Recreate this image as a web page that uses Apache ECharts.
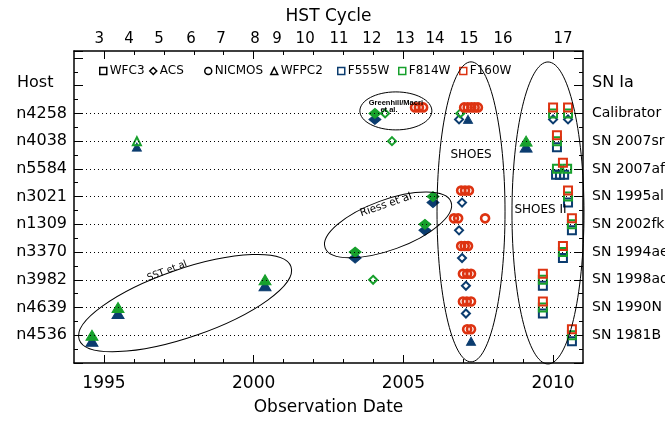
<!DOCTYPE html>
<html>
<head>
<meta charset="utf-8">
<script src="https://cdn.jsdelivr.net/npm/echarts@6/dist/echarts.min.js"></script>
<style>
    html, body {margin: 0; padding: 0; background: #fff;}
    #main {width: 665px; height: 422px;}
</style>
</head>
<body>
<div id="main"></div>
<script>
// host rows, bottom to top
var hosts = ['n4536', 'n4639', 'n3982', 'n3370', 'n1309', 'n3021', 'n5584', 'n4038', 'n4258'];
var snNames = ['SN 1981B', 'SN 1990N', 'SN 1998aq', 'SN 1994ae', 'SN 2002fk', 'SN 1995al', 'SN 2007af', 'SN 2007sr', 'Calibrator'];

var yearLabels = [1995, 2000, 2005, 2010];
var yearTicks = [1995, 1996, 1997, 1998, 1999, 2000, 2001, 2002, 2003, 2004, 2005, 2006, 2007, 2008, 2009, 2010];
var cycleNumbers = [3, 4, 5, 6, 7, 8, 9, 10, 11, 12, 13, 14, 15, 16, 17];
var cycleDates = [1994.84, 1995.84, 1996.84, 1997.91, 1998.91, 2000.05, 2000.78, 2001.72, 2002.85, 2003.95, 2005.06, 2006.06, 2007.19, 2008.33, 2010.33];

// [date, host]
// cepheid campaigns (many epochs, taken in both F555W and F814W)
var wfpc2Campaign = [[1994.6, 'n4536'], [1995.47, 'n4639'], [2000.38, 'n3982'], [2009.1, 'n4038']];
var acsCampaign = [[2004.05, 'n4258'], [2003.39, 'n3370'], [2005.72, 'n1309'], [2005.99, 'n3021']];

var wfpc2F814 = [[1996.1, 'n4038']];
var wfpc2F555 = [[1996.1, 'n4038'], [2007.16, 'n4258'], [2007.26, 'n4536']];

var acsF814 = [[2004.39, 'n4258'], [2006.9, 'n4258'], [2004.62, 'n4038'], [2003.99, 'n3982']];
var acsF555 = [[2006.86, 'n4258'], [2006.96, 'n3021'], [2006.86, 'n1309'], [2006.96, 'n3370'],
    [2007.09, 'n3982'], [2007.09, 'n4639'], [2010.0, 'n4258'], [2010.5, 'n4258']];

var nicmosF160 = [
    [2005.39, 'n4258'], [2005.52, 'n4258'], [2005.66, 'n4258'],
    [2007.03, 'n4258'], [2007.15, 'n4258'], [2007.27, 'n4258'], [2007.38, 'n4258'], [2007.49, 'n4258'],
    [2006.93, 'n3021'], [2007.06, 'n3021'], [2007.19, 'n3021'],
    [2006.69, 'n1309'], [2006.83, 'n1309'], [2007.73, 'n1309'],
    [2006.93, 'n3370'], [2007.05, 'n3370'], [2007.16, 'n3370'],
    [2006.99, 'n3982'], [2007.13, 'n3982'], [2007.26, 'n3982'],
    [2006.99, 'n4639'], [2007.12, 'n4639'], [2007.26, 'n4639'],
    [2007.13, 'n4536'], [2007.26, 'n4536']
];

var wfc3F160 = [[2010.0, 'n4258'], [2010.5, 'n4258'], [2010.13, 'n4038'], [2010.33, 'n5584'], [2010.5, 'n3021'],
    [2010.63, 'n1309'], [2010.33, 'n3370'], [2009.66, 'n3982'], [2009.66, 'n4639'], [2010.63, 'n4536']];
var wfc3F814 = [[2010.0, 'n4258'], [2010.5, 'n4258'], [2010.13, 'n4038'], [2010.13, 'n5584'], [2010.47, 'n5584'],
    [2010.5, 'n3021'], [2010.63, 'n1309'], [2010.33, 'n3370'], [2009.66, 'n3982'], [2009.66, 'n4639'], [2010.63, 'n4536']];
var wfc3F555 = [[2010.13, 'n4038'], [2010.1, 'n5584'], [2010.23, 'n5584'], [2010.37, 'n5584'], [2010.5, 'n3021'],
    [2010.63, 'n1309'], [2010.33, 'n3370'], [2009.66, 'n3982'], [2009.66, 'n4639'], [2010.63, 'n4536']];

var FONT = 'DejaVu Sans';
var filterColor = {F555W: '#0b3c6f', F814W: '#17a02c', F160W: '#dd3311'};
var filterShift = {F555W: 6, F814W: 0, F160W: -6};

var toPoints = function (list) {
    return list.map(function (d) {
        return [d[0], hosts.indexOf(d[1]) + 1];
    });
};

var marks = function (filter, symbol, size, list, filled, lw) {
    var c = filterColor[filter];
    return {
        type: 'scatter',
        name: filter,
        data: toPoints(list),
        symbol: symbol,
        symbolSize: size,
        symbolOffset: [0, filterShift[filter]],
        silent: true,
        z: 3,
        itemStyle: filled ? {color: c, borderColor: c, borderWidth: 1, opacity: 1}
            : {color: 'rgba(255,255,255,0)', borderColor: c, borderWidth: lw || 2, opacity: 1}
    };
};

var legendItems = [
    {name: 'WFC3', icon: 'rect', color: '#000', left: 99},
    {name: 'ACS', icon: 'diamond', color: '#000', left: 149},
    {name: 'NICMOS', icon: 'circle', color: '#000', left: 204},
    {name: 'WFPC2', icon: 'triangle', color: '#000', left: 270},
    {name: 'F555W', icon: 'rect', color: filterColor.F555W, left: 337},
    {name: 'F814W', icon: 'rect', color: filterColor.F814W, left: 398},
    {name: 'F160W', icon: 'rect', color: filterColor.F160W, left: 459}
];

var chart = echarts.init(document.getElementById('main'));

var axisLine = {show: true, lineStyle: {color: '#000', width: 1.5}};
var tickStyle = {color: '#000', width: 1};

var series = [
    // dotted guide lines for each host
    {
        type: 'scatter', data: [], silent: true,
        markLine: {
            silent: true, symbol: ['none', 'none'], label: {show: false},
            lineStyle: {type: [1, 3], color: '#000', width: 1},
            data: hosts.map(function (h, i) { return {yAxis: i + 1}; })
        }
    },
    {type: 'scatter', name: 'WFC3', data: []},
    {type: 'scatter', name: 'ACS', data: []},
    {type: 'scatter', name: 'NICMOS', data: []},
    {type: 'scatter', name: 'WFPC2', data: []},
    marks('F555W', 'triangle', [12, 10], wfpc2Campaign, true),
    marks('F814W', 'triangle', [12, 10], wfpc2Campaign, true),
    marks('F555W', 'triangle', [9, 8], wfpc2F555, true),
    marks('F814W', 'triangle', [8, 8], wfpc2F814, false),
    marks('F555W', 'diamond', [12, 10], acsCampaign, true),
    marks('F814W', 'diamond', [12, 10], acsCampaign, true),
    marks('F555W', 'diamond', 8, acsF555, false),
    marks('F814W', 'diamond', 8, acsF814, false),
    marks('F160W', 'circle', 8, nicmosF160, false, 2.6),
    marks('F555W', 'rect', 8, wfc3F555, false),
    marks('F814W', 'rect', 8, wfc3F814, false),
    marks('F160W', 'rect', 8, wfc3F160, false)
];

var option = {
    animation: false,
    grid: {left: 74, right: 82, top: 51, bottom: 59, outerBoundsMode: 'none'},
    legend: legendItems.map(function (it) {
        return {
            left: it.left, top: 65, padding: 0, selectedMode: false,
            itemWidth: 7, itemHeight: 7, itemGap: 0,
            textStyle: {color: '#000', fontFamily: FONT, fontSize: 12, padding: [0, 0, 0, -2]},
            data: [{name: it.name, icon: it.icon,
                itemStyle: {color: '#fff', borderColor: it.color, borderWidth: 1.5, opacity: 1}}]
        };
    }),
    xAxis: [
        {
            type: 'value', position: 'bottom', min: 1994, max: 2011,
            name: 'Observation Date', nameLocation: 'middle', nameGap: 36,
            nameTextStyle: {color: '#000', fontFamily: FONT, fontSize: 17},
            axisLine: axisLine,
            axisTick: {show: true, inside: true, length: 8, customValues: yearLabels, lineStyle: tickStyle},
            axisLabel: {customValues: yearLabels, margin: 12, color: '#000', fontFamily: FONT, fontSize: 17,
                formatter: function (v) { return String(v); }},
            splitLine: {show: false}
        },
        {
            type: 'value', position: 'bottom', min: 1994, max: 2011,
            axisLine: {show: false},
            axisTick: {show: true, inside: true, length: 4, customValues: yearTicks, lineStyle: tickStyle},
            axisLabel: {show: false},
            splitLine: {show: false}
        },
        {
            type: 'value', position: 'top', min: 1994, max: 2011,
            name: 'HST Cycle', nameLocation: 'middle', nameGap: 26,
            nameTextStyle: {color: '#000', fontFamily: FONT, fontSize: 17},
            axisLine: axisLine,
            axisTick: {show: true, inside: true, length: 8, customValues: yearLabels, lineStyle: tickStyle},
            axisLabel: {
                customValues: cycleDates, margin: 4, color: '#000', fontFamily: FONT, fontSize: 15,
                formatter: function (v) {
                    for (var i = 0; i < cycleDates.length; i++) {
                        if (Math.abs(cycleDates[i] - v) < 0.005) return String(cycleNumbers[i]);
                    }
                    return '';
                }
            },
            splitLine: {show: false}
        },
        {
            type: 'value', position: 'top', min: 1994, max: 2011,
            axisLine: {show: false},
            axisTick: {show: true, inside: true, length: 4, customValues: yearTicks, lineStyle: tickStyle},
            axisLabel: {show: false},
            splitLine: {show: false}
        }
    ],
    yAxis: [
        {
            type: 'value', position: 'left', min: 0, max: 11.25, interval: 1,
            axisLine: axisLine,
            axisTick: {show: true, inside: true, length: 9, lineStyle: tickStyle},
            minorTick: {show: true, splitNumber: 2, length: 4, lineStyle: tickStyle},
            axisLabel: {margin: 7, color: '#000', fontFamily: FONT, fontSize: 16,
                formatter: function (v) { return hosts[v - 1] || ''; }},
            splitLine: {show: false}
        },
        {
            type: 'value', position: 'right', min: 0, max: 11.25, interval: 1,
            axisLine: axisLine,
            axisTick: {show: true, inside: true, length: 9, lineStyle: tickStyle},
            minorTick: {show: true, splitNumber: 2, length: 4, lineStyle: tickStyle},
            axisLabel: {margin: 9, color: '#000', fontFamily: FONT, fontSize: 14,
                formatter: function (v) { return snNames[v - 1] || ''; }},
            splitLine: {show: false}
        }
    ],
    series: series
};
chart.setOption(option);

// hand drawn program outlines, centred on [date, row]
var rings = [
    {at: [2004.75, 9.09], rx: 36, ry: 19, rot: 0},
    {at: [2007.26, 5.45], rx: 34, ry: 150, rot: 0},
    {at: [2009.83, 5.41], rx: 36, ry: 151, rot: 0},
    {at: [2004.49, 4.98], rx: 67, ry: 25, rot: 20},
    {at: [1997.71, 2.16], rx: 112, ry: 34, rot: 19}
];
var notes = [
    {text: 'Greenhill/Macri', at: [2004.75, 9.38], size: 7.5, family: 'Liberation Sans', weight: 'bold', rot: 0},
    {text: 'et al.', at: [2004.52, 9.14], size: 7.5, family: 'Liberation Sans', weight: 'bold', rot: 0},
    {text: 'SHOES', at: [2007.26, 7.5], size: 12, family: FONT, weight: 'normal', rot: 0},
    {text: 'SHOES II', at: [2009.58, 5.52], size: 12, family: FONT, weight: 'normal', rot: 0},
    {text: 'Riess et al', at: [2004.42, 5.7], size: 10.5, family: FONT, weight: 'normal', rot: 19},
    {text: 'SST et al', at: [1997.11, 3.32], size: 9.5, family: FONT, weight: 'normal', rot: 21}
];

var px = function (p) {
    return chart.convertToPixel({xAxisIndex: 0, yAxisIndex: 0}, p);
};
var graphics = [];
rings.forEach(function (r) {
    var c = px(r.at);
    graphics.push({
        type: 'ellipse', x: c[0], y: c[1], rotation: r.rot * Math.PI / 180, silent: true, z: 5,
        shape: {cx: 0, cy: 0, rx: r.rx, ry: r.ry},
        style: {fill: 'none', stroke: '#000', lineWidth: 1}
    });
});
notes.forEach(function (n) {
    var c = px(n.at);
    graphics.push({
        type: 'text', x: c[0], y: c[1], rotation: n.rot * Math.PI / 180, silent: true, z: 6,
        style: {
            text: n.text, fill: '#000', fontSize: n.size, fontFamily: n.family, fontWeight: n.weight,
            align: 'center', verticalAlign: 'middle', textAlign: 'center', textVerticalAlign: 'middle'
        }
    });
});
graphics.push({
    type: 'text', left: 17, top: 75, silent: true,
    style: {text: 'Host', fill: '#000', fontSize: 16, fontFamily: FONT}
});
graphics.push({
    type: 'text', left: 592, top: 75, silent: true,
    style: {text: 'SN Ia', fill: '#000', fontSize: 16, fontFamily: FONT}
});
chart.setOption({graphic: graphics});
</script>
</body>
</html>
